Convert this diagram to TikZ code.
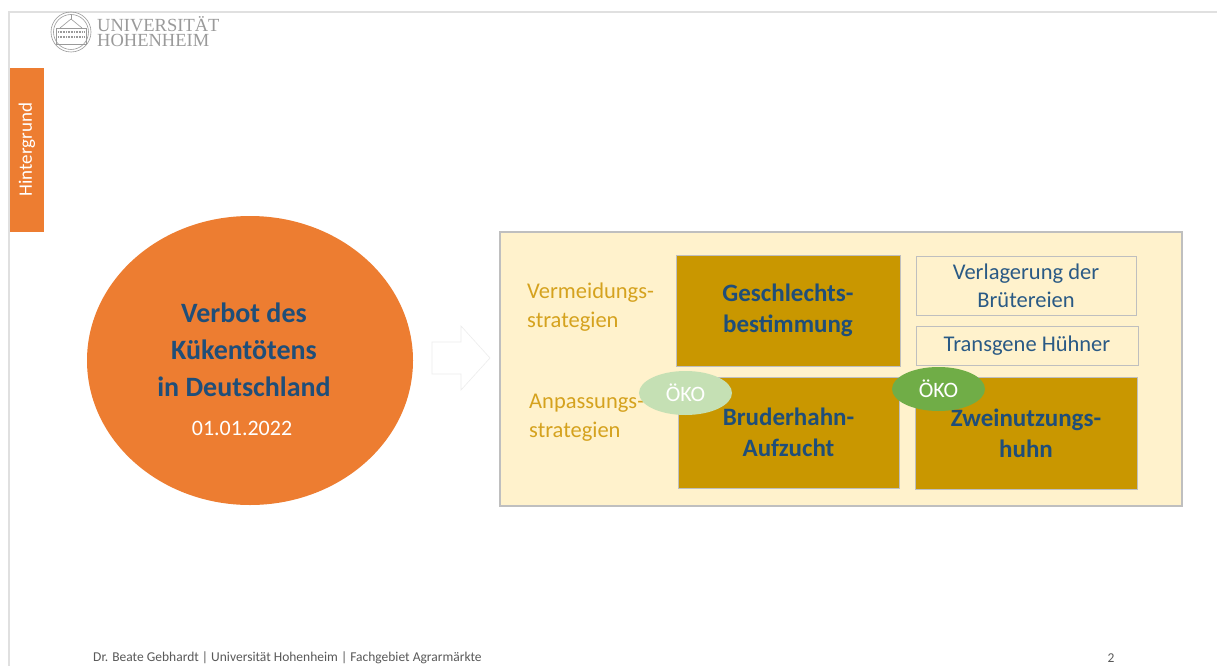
\documentclass[tikz,border=0pt]{standalone}
\usepackage{fontspec}
\setmainfont{Carlito}
\newfontfamily\logofont{Liberation Serif}
\definecolor{orangeA}{HTML}{ED7D31}
\definecolor{creamA}{HTML}{FFF2CC}
\definecolor{goldA}{HTML}{C99700}
\definecolor{goldT}{HTML}{D5A21E}
\definecolor{blueA}{HTML}{1F4E79}
\definecolor{blueB}{HTML}{2A5A85}
\definecolor{edgeA}{HTML}{BFBFBF}
\definecolor{logoG}{HTML}{9A9A9A}
\definecolor{okoL}{HTML}{C5E0B4}
\definecolor{okoD}{HTML}{70AD47}
\tikzset{
 pxbox/.style={rectangle,minimum width=#1,inner sep=0pt,outer sep=0pt,align=center},
 goldbox/.style={draw=edgeA,line width=1pt,fill=goldA,text=blueA,font=\fontsize{25}{31}\selectfont\bfseries},
 lightbox/.style={draw=edgeA,line width=1pt,fill=creamA,text=blueB,font=\fontsize{22.5}{28}\selectfont},
 stratlabel/.style={text=goldT,font=\fontsize{22.5}{29}\selectfont,align=left,anchor=west,inner sep=0pt},
 okotag/.style={ellipse,minimum width=93pt,minimum height=44pt,inner sep=0pt,text=white,font=\fontsize{22}{26}\selectfont},
 logotext/.style={text=logoG,font=\logofont\fontsize{18.5}{20}\selectfont,anchor=west,inner sep=0pt},
 logoline/.style={draw=logoG,line width=0.6pt}
}
\usetikzlibrary{shapes.geometric}
\begin{document}
\begin{tikzpicture}[x=1pt,y=-1pt]
\useasboundingbox (0,0) rectangle (1217,666);
\fill[white] (0,0) rectangle (1217,666);
% slide frame
\draw[draw=black!12,line width=1.2pt] (9,666) -- (9,12) -- (1217,12);
% logo
\draw[logoline] (71,32) circle (20);
\draw[logoline] (71,32) circle (17.5);
\draw[logoline] (56,28) -- (86,28) -- (86,44) -- (56,44) -- cycle;
\draw[logoline] (60,28) -- (71,19) -- (82,28);
\draw[logoline,densely dotted,line width=1.4pt] (58,32) -- (84,32);
\draw[logoline,densely dotted,line width=1.4pt] (58,37) -- (84,37);
\draw[logoline] (71,19) -- (71,15);
\node[logotext] (uni) at (97,24) {UNIVERSITÄT};
\node[logotext] (hoh) at (97,40) {HOHENHEIM};
% side tab
\node[rectangle,fill=orangeA,minimum width=34pt,minimum height=164pt,inner sep=0pt] (tab) at (27,150) {};
\node[rotate=90,text=white,font=\fontsize{19}{22}\selectfont,inner sep=0pt] (tabt) at (27,149.5) {Hintergrund};
% main ellipse
\node[ellipse,fill=orangeA,minimum width=326pt,minimum height=289pt,inner sep=0pt] (ban) at (250,360.5) {};
\node[text=blueA,font=\fontsize{28}{37}\selectfont\bfseries,align=center,inner sep=0pt] (bant) at (244,349.5) {Verbot des\\Kükentötens\\in Deutschland};
\node[text=white,font=\fontsize{22}{26}\selectfont,inner sep=0pt] (date) at (242,428) {01.01.2022};
% arrow
\draw[draw=black!7,fill=white,line width=0.6pt] (432,342) -- (461,342) -- (461,326) -- (490,358) -- (461,390) -- (461,374) -- (432,374) -- cycle;
% container
\node[rectangle,draw=edgeA,line width=1.2pt,fill=creamA,minimum width=682pt,minimum height=274pt,inner sep=0pt] (panel) at (841,369) {};
\node[stratlabel] (verm) at (527,307) {Vermeidungs-\\strategien};
\node[stratlabel] (anp) at (529,418) {Anpassungs-\\strategien};
% boxes
\node[goldbox,pxbox=224pt,minimum height=111pt] (ges) at (788,310.5) {Geschlechts-\\bestimmung};
\node[goldbox,pxbox=221pt,minimum height=111pt] (bru) at (788.5,432.5) {Bruderhahn-\\Aufzucht};
\node[goldbox,pxbox=222pt,minimum height=112pt] (zwe) at (1026,433) {Zweinutzungs-\\huhn};
\node[lightbox,pxbox=220pt,minimum height=59pt] (ver) at (1026,285.5) {Verlagerung der\\Brütereien};
\node[lightbox,pxbox=222pt,minimum height=39pt] (tra) at (1027,345.5) {Transgene Hühner};
% tags
\node[okotag,fill=okoL] (okoa) at (685.5,393) {ÖKO};
\node[okotag,fill=okoD] (okob) at (938.5,389) {ÖKO};
% footer
\node[text=black!65,font=\fontsize{13.5}{16}\selectfont,anchor=west,inner sep=0pt] (foot) at (93,658) {Dr. Beate Gebhardt | Universität Hohenheim | Fachgebiet Agrarmärkte};
\node[text=black!65,font=\fontsize{13.5}{16}\selectfont,inner sep=0pt] (pg) at (1111,658) {2};
\end{tikzpicture}
\end{document}
